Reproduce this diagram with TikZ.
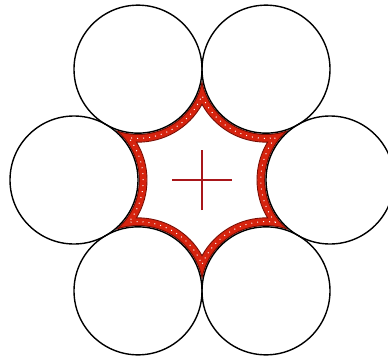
\documentclass[tikz,border=0pt]{standalone}
\usepackage{tikz}
\usetikzlibrary{calc}
\definecolor{band}{HTML}{D6230E}
\definecolor{bandedge}{HTML}{7A0C02}
\definecolor{crossred}{HTML}{A8161A}
\tikzset{wire/.style={draw=black,line width=1.4pt}}
\newcommand\rr{64}
\newcommand\dd{128}
% gap between the six wires, bounded by arcs of radius #1
\newcommand\gappath[1]{($(O)+(0:\dd)+({120+acos(\rr/#1)}:#1pt)$)
  arc[start angle={120+acos(\rr/#1)}, end angle={240-acos(\rr/#1)}, radius=#1pt]
  \foreach \t in {300,240,180,120,60}{
    arc[start angle={\t+120+acos(\rr/#1)}, end angle={\t+240-acos(\rr/#1)}, radius=#1pt]} -- cycle}

\begin{document}
\begin{tikzpicture}[x=1pt,y=1pt]
    \useasboundingbox (0,0) rectangle (388,360);
    \coordinate (O) at (202,180);
    \fill[band] \gappath{65};
    \draw[bandedge,line width=0.8pt] \gappath{65.4};
    \fill[white] \gappath{73};
    \draw[bandedge,line width=0.9pt] \gappath{73};
    \draw[white,line width=1pt,dash pattern=on 1pt off 5pt] \gappath{69.2};
    \foreach \t in {0,60,...,300}
      \draw[wire] (O) ++(\t:\dd) circle[radius=\rr pt];
    \draw[crossred,line width=1.6pt] (O) ++(-30,0) -- ++(60,0) (O) ++(0,-30) -- ++(0,60);
  \end{tikzpicture}
\end{document}
